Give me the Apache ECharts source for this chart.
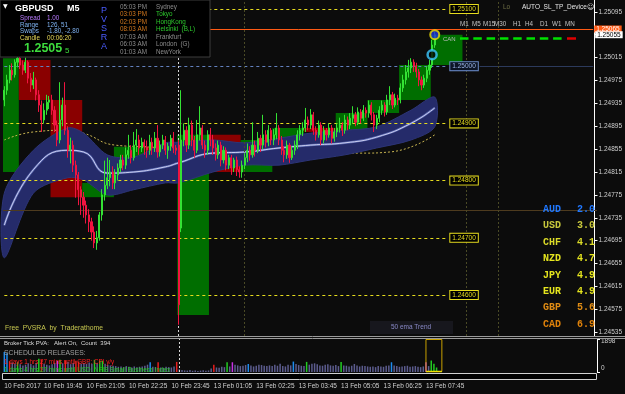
<!DOCTYPE html>
<html>
<head>
<meta charset="utf-8">
<script src="https://cdn.jsdelivr.net/npm/echarts@6/dist/echarts.min.js"></script>
<style>
  html, body { margin: 0; padding: 0; background: #000; }
  #chart { width: 625px; height: 394px; }
</style>
</head>
<body>
<div id="chart"></div>
<script>
// GBPUSD M5 candles, [open, close, low, high], first bar 10 Feb 18:30
const candles = [
  [1.24941,1.24958,1.24930,1.24965],[1.24958,1.24976,1.24950,1.24985],[1.24976,1.24993,1.24970,1.25002],
  [1.24993,1.24985,1.24975,1.25005],[1.24985,1.25007,1.24980,1.25012],[1.25007,1.25014,1.24998,1.25020],
  [1.25014,1.25002,1.24995,1.25020],[1.25002,1.24993,1.24985,1.25010],[1.24993,1.25007,1.24988,1.25015],
  [1.25007,1.24979,1.24970,1.25010],[1.24979,1.24967,1.24955,1.24988],[1.24967,1.24976,1.24960,1.24990],
  [1.24976,1.24950,1.24940,1.24980],[1.24950,1.24932,1.24920,1.24958],[1.24932,1.24906,1.24885,1.24940],
  [1.24906,1.24923,1.24900,1.24935],[1.24923,1.24937,1.24915,1.24950],[1.24937,1.24941,1.24925,1.24948],
  [1.24941,1.24923,1.24915,1.24950],[1.24923,1.24897,1.24885,1.24930],[1.24897,1.24871,1.24860,1.24905],
  [1.24871,1.24906,1.24865,1.24972],[1.24906,1.24932,1.24895,1.24945],[1.24932,1.24888,1.24880,1.24972],
  [1.24888,1.24853,1.24840,1.24895],[1.24853,1.24862,1.24830,1.24875],[1.24862,1.24827,1.24815,1.24870],
  [1.24827,1.24810,1.24770,1.24835],[1.24810,1.24784,1.24757,1.24815],[1.24784,1.24771,1.24740,1.24790],
  [1.24771,1.24757,1.24735,1.24780],[1.24757,1.24740,1.24725,1.24765],[1.24740,1.24728,1.24710,1.24750],
  [1.24728,1.24710,1.24695,1.24735],[1.24710,1.24691,1.24682,1.24720],[1.24691,1.24700,1.24679,1.24712],
  [1.24700,1.24740,1.24695,1.24745],[1.24740,1.24775,1.24730,1.24785],[1.24775,1.24792,1.24765,1.24835],
  [1.24792,1.24805,1.24785,1.24840],[1.24805,1.24815,1.24790,1.24836],[1.24815,1.24796,1.24785,1.24825],
  [1.24796,1.24810,1.24785,1.24820],[1.24810,1.24822,1.24800,1.24830],[1.24822,1.24836,1.24815,1.24845],
  [1.24836,1.24827,1.24818,1.24845],[1.24827,1.24845,1.24820,1.24858],[1.24845,1.24853,1.24838,1.24880],
  [1.24853,1.24840,1.24830,1.24862],[1.24840,1.24862,1.24835,1.24885],[1.24862,1.24871,1.24850,1.24890],
  [1.24871,1.24857,1.24845,1.24880],[1.24857,1.24867,1.24850,1.24875],[1.24867,1.24859,1.24845,1.24872],
  [1.24859,1.24853,1.24840,1.24870],[1.24853,1.24867,1.24845,1.24880],[1.24867,1.24857,1.24845,1.24875],
  [1.24857,1.24874,1.24850,1.24885],[1.24874,1.24850,1.24840,1.24897],[1.24850,1.24862,1.24842,1.24870],
  [1.24862,1.24871,1.24855,1.24880],[1.24871,1.24853,1.24845,1.24878],[1.24853,1.24860,1.24838,1.24866],
  [1.24860,1.24874,1.24852,1.24880],[1.24874,1.24857,1.24848,1.24885],[1.24857,1.24853,1.24845,1.24862],
  [1.24862,1.24583,1.24548,1.24871],[1.24717,1.24871,1.24710,1.24958],[1.24871,1.24888,1.24860,1.24900],
  [1.24888,1.24862,1.24850,1.24895],[1.24862,1.24897,1.24855,1.24910],[1.24897,1.24871,1.24860,1.24905],
  [1.24871,1.24853,1.24840,1.24878],[1.24853,1.24880,1.24848,1.24906],[1.24880,1.24892,1.24870,1.24930],
  [1.24892,1.24862,1.24855,1.24897],[1.24862,1.24853,1.24840,1.24870],[1.24853,1.24880,1.24845,1.24888],
  [1.24880,1.24871,1.24860,1.24892],[1.24871,1.24857,1.24845,1.24880],[1.24857,1.24845,1.24835,1.24865],
  [1.24845,1.24862,1.24838,1.24870],[1.24862,1.24836,1.24825,1.24868],[1.24836,1.24853,1.24830,1.24860],
  [1.24853,1.24827,1.24818,1.24858],[1.24827,1.24840,1.24820,1.24845],[1.24840,1.24822,1.24810,1.24845],
  [1.24822,1.24836,1.24815,1.24840],[1.24836,1.24819,1.24808,1.24842],[1.24819,1.24815,1.24805,1.24825],
  [1.24815,1.24827,1.24805,1.24835],[1.24827,1.24840,1.24820,1.24848],[1.24840,1.24853,1.24832,1.24865],
  [1.24853,1.24845,1.24835,1.24860],[1.24845,1.24862,1.24840,1.24902],[1.24862,1.24853,1.24842,1.24870],
  [1.24853,1.24874,1.24848,1.24885],[1.24874,1.24862,1.24850,1.24880],[1.24862,1.24880,1.24855,1.24915],
  [1.24880,1.24867,1.24858,1.24888],[1.24867,1.24888,1.24860,1.24897],[1.24888,1.24871,1.24862,1.24892],
  [1.24871,1.24880,1.24862,1.24890],[1.24880,1.24892,1.24872,1.24918],[1.24892,1.24871,1.24862,1.24897],
  [1.24871,1.24853,1.24845,1.24878],[1.24853,1.24845,1.24832,1.24860],[1.24845,1.24862,1.24838,1.24870],
  [1.24862,1.24840,1.24831,1.24866],[1.24840,1.24853,1.24836,1.24860],[1.24853,1.24862,1.24845,1.24870],
  [1.24862,1.24880,1.24855,1.24888],[1.24880,1.24888,1.24870,1.24897],[1.24888,1.24892,1.24878,1.24902],
  [1.24892,1.24906,1.24885,1.24927],[1.24906,1.24897,1.24888,1.24912],[1.24897,1.24915,1.24890,1.24925],
  [1.24915,1.24888,1.24880,1.24920],[1.24888,1.24880,1.24870,1.24895],[1.24880,1.24897,1.24875,1.24905],
  [1.24897,1.24871,1.24862,1.24902],[1.24871,1.24888,1.24865,1.24895],[1.24888,1.24880,1.24870,1.24892],
  [1.24880,1.24892,1.24875,1.24900],[1.24892,1.24874,1.24865,1.24897],[1.24874,1.24885,1.24868,1.24892],
  [1.24885,1.24892,1.24876,1.24900],[1.24892,1.24897,1.24884,1.24910],[1.24897,1.24888,1.24878,1.24902],
  [1.24888,1.24906,1.24882,1.24915],[1.24906,1.24897,1.24888,1.24912],[1.24897,1.24909,1.24890,1.24918],
  [1.24909,1.24915,1.24900,1.24930],[1.24915,1.24902,1.24895,1.24920],[1.24902,1.24920,1.24897,1.24928],
  [1.24920,1.24909,1.24900,1.24925],[1.24909,1.24923,1.24904,1.24932],[1.24923,1.24918,1.24910,1.24928],
  [1.24918,1.24932,1.24910,1.24940],[1.24932,1.24915,1.24905,1.24937],[1.24915,1.24897,1.24885,1.24920],
  [1.24897,1.24909,1.24890,1.24915],[1.24909,1.24923,1.24902,1.24930],[1.24923,1.24932,1.24915,1.24940],
  [1.24932,1.24920,1.24912,1.24937],[1.24920,1.24941,1.24915,1.24950],[1.24941,1.24950,1.24932,1.24965],
  [1.24950,1.24932,1.24925,1.24955],[1.24932,1.24944,1.24928,1.24952],[1.24944,1.24941,1.24932,1.24950],
  [1.24941,1.24962,1.24935,1.24970],[1.24962,1.24976,1.24955,1.24985],[1.24976,1.24990,1.24968,1.25002],
  [1.24990,1.24997,1.24980,1.25011],[1.24997,1.25007,1.24988,1.25014],[1.25007,1.25000,1.24990,1.25012],
  [1.25000,1.24990,1.24980,1.25006],[1.24990,1.24976,1.24965,1.24995],[1.24976,1.24967,1.24958,1.24982],
  [1.24967,1.24979,1.24962,1.24985],[1.24979,1.24993,1.24972,1.25000],[1.24993,1.25002,1.24985,1.25011],
  [1.25002,1.25037,1.24997,1.25046],[1.25037,1.25055,1.25032,1.25060]
];

// tick volume per bar and its PVSRA class (n normal, g/r climax, b/m rising)
const volumes = [
  1150,1080,620,540,480,560,450,380,420,500,
  460,380,520,760,700,480,420,380,450,520,
  640,700,500,680,580,450,520,640,600,480,
  520,460,540,480,700,500,660,640,480,420,
  380,360,340,300,320,280,340,300,260,320,
  280,300,320,360,420,560,300,280,560,260,
  240,300,280,260,320,580,160,120,90,80,
  110,70,90,60,80,100,70,90,200,420,
  260,240,300,280,560,320,560,420,380,340,
  360,400,460,380,320,360,420,400,360,340,
  380,340,420,360,480,340,320,420,380,600,
  460,400,360,340,580,420,480,500,440,380,
  360,420,440,380,360,400,340,580,380,360,
  320,360,460,380,320,360,340,320,300,320,
  280,340,320,300,360,380,560,380,340,300,
  320,340,360,300,320,340,300,280,320,560,
  340,660,480,260
];
const volumeKinds = ('bbrnngnnnn' + 'nnngrnnnnn' + 'mgnrnnnrrn' + 'nnnngnggnn' +
  'nnnnnnnnnn' + 'nnnnnbnnrn' + 'nnnnnrnnnn' + 'nnnnnnnnnr' + 'nnnngnmnnn' +
  'nnbnnnnnnn' + 'nnnnnnnnnb' + 'nnnngnnnnn' + 'nnnnnnngnn' + 'nnnnnnnnnn' +
  'nnnnnnbnnn' + 'nnnnnnnnnm' + 'nggg').split('');

// H1 PVSRA boxes: [first bar, last bar, open, close]
const hourBoxes = [
  [0, 5, 1.24815, 1.25014], [6, 17, 1.25011, 1.24941], [18, 29, 1.24941, 1.24771],
  [30, 41, 1.24771, 1.24796], [42, 53, 1.24796, 1.24859], [54, 65, 1.24859, 1.24853],
  [66, 77, 1.24565, 1.24880], [78, 89, 1.24880, 1.24815], [90, 101, 1.24815, 1.24871],
  [102, 113, 1.24871, 1.24892], [114, 125, 1.24892, 1.24885], [126, 137, 1.24885, 1.24918],
  [138, 149, 1.24918, 1.24941], [150, 161, 1.24941, 1.25002], [162, 173, 1.25002, 1.25055]
];

// EMA envelope, read at a few bars
const bandIndex = [0, 11, 24, 30, 39, 49, 61, 66, 79, 91, 104, 116, 129, 141, 154, 163];
const bandUpper = [1.24778,1.24853,1.24892,1.24883,1.24845,1.24841,1.24866,1.24867,1.24871,1.24866,1.24874,1.24883,1.24888,1.24894,1.24923,1.24946];
const bandMid   = [1.24722,1.24819,1.24853,1.24850,1.24813,1.24815,1.24824,1.24831,1.24848,1.24850,1.24857,1.24862,1.24866,1.24876,1.24900,1.24927];
const bandLower = [1.24665,1.24778,1.24805,1.24801,1.24775,1.24784,1.24796,1.24796,1.24815,1.24827,1.24827,1.24836,1.24845,1.24857,1.24871,1.24894];

// slow EMA (yellow dots)
const slowIndex = [0, 11, 24, 30, 42, 54, 66, 90, 115, 135, 146, 163];
const slowEma   = [1.24871,1.24885,1.24888,1.24883,1.24862,1.24859,1.24855,1.24853,1.24850,1.24848,1.24850,1.24880];

const levelPrices = [1.2510, 1.2490, 1.2480, 1.2470, 1.2460];
const roundLevel = 1.2500;
const lowLine = 1.24749;
const askPrice = 1.25065;
const bidPrice = 1.25055;
const markerPrice = 1.25020;

const priceTicks = [1.24535,1.24575,1.24615,1.24655,1.24695,1.24735,1.24775,1.24815,
                    1.24855,1.24895,1.24935,1.24975,1.25015,1.25055,1.25095];
const volumeMax = 1898;
const currentBars = [159, 165];

const tickIndex = [0, 15, 31, 47, 63, 79, 95, 111, 127, 143, 159];
const tickLabels = ['10 Feb 2017','10 Feb 19:45','10 Feb 21:05','10 Feb 22:25','10 Feb 23:45',
  '13 Feb 01:05','13 Feb 02:25','13 Feb 03:45','13 Feb 05:05','13 Feb 06:25','13 Feb 07:45'];

const sessionTimes = ['05:03 PM','03:03 PM','02:03 PM','08:03 AM','07:03 AM','06:03 AM','01:03 AM'];
const sessionCities = ['Sydney','Tokyo','HongKong','Helsinki  (B,L)','Frankfurt','London  (G)','NewYork'];
const infoNames = ['Spread','Range','Swaps','Candle'];
const infoValues = ['1.00','126, 51','-1.80, -2.80','00:06:20'];

const currencies = ['AUD','USD','CHF','NZD','JPY','EUR','GBP','CAD'];
const strengths = ['2.0','3.0','4.1','4.7','4.9','4.9','5.6','6.9'];

const timeframes = ['M1','M5','M15','M30','H1','H4','D1','W1','MN'];

// ---- categories: 5 minute bars, weekend skipped, plus empty space on the right
const totalSlots = 224;
const monthNames = ['Jan','Feb','Mar','Apr','May','Jun','Jul','Aug','Sep','Oct','Nov','Dec'];
const pad = n => (n < 10 ? '0' : '') + n;
const categories = [];
let t = Date.UTC(2017, 1, 10, 18, 30);
for (let i = 0; i < totalSlots; i++) {
  const d = new Date(t);
  categories.push(d.getUTCDate() + ' ' + monthNames[d.getUTCMonth()] + ' ' + pad(d.getUTCHours()) + ':' + pad(d.getUTCMinutes()));
  t += 300000;
  if (t === Date.UTC(2017, 1, 11, 0, 0)) t = Date.UTC(2017, 1, 13, 0, 0);
}

const SANS = '"Liberation Sans", Arial, sans-serif';
const MONO = '"Liberation Mono", "DejaVu Sans Mono", monospace';
const UP = '#34e234', DOWN = '#f01440';
const kindColor = { n: '#5c5c8e', g: '#22cc22', r: '#e81e1e', b: '#1e8cf0', m: '#c832e6' };
const sessionTimeColors = ['#8c8c8c','#d2781e','#d2781e','#d2781e','#8c8c8c','#8c8c8c','#8c8c8c'];
const sessionCityColors = ['#8c8c8c','#2cc82c','#2cc82c','#2cc82c','#8c8c8c','#8c8c8c','#8c8c8c'];
const infoColors = ['#b97aff','#7fb2f0','#7fb2f0','#e6d85a'];
const currencyColors = ['#2078ff','#c8c83c','#dcdc28','#e6e61e','#e6e61e','#e6e61e','#e08c14','#e0820a'];

function txt(x, y, text, fill, size, weight, family, align) {
  return { type: 'text', x: x, y: y, z: 100, silent: true,
    style: { text: text, fill: fill, font: (weight || 'normal') + ' ' + size + 'px ' + (family || SANS),
      align: align || 'left', verticalAlign: 'middle' } };
}

const graphics = [];
// info panel
graphics.push({ type: 'rect', z: 99, silent: true, shape: { x: 0, y: 0, width: 210, height: 57 },
  style: { fill: '#000', stroke: '#3c3c3c', lineWidth: 1 } });
graphics.push(txt(3, 6, '▼', '#ffffff', 6, 'normal', '"DejaVu Sans"'));
graphics.push(txt(15, 8.5, 'GBPUSD', '#ffffff', 9, 'bold'));
graphics.push(txt(67, 8.5, 'M5', '#ffffff', 9, 'bold'));
[18, 25, 31.5, 38].forEach((y, k) => {
  graphics.push(txt(20, y, infoNames[k], infoColors[k], 6.3));
  graphics.push(txt(47, y, infoValues[k], infoColors[k], 6.3));
});
graphics.push(txt(24, 49, '1.2505', '#3ddc3d', 12.5, 'bold'));
graphics.push(txt(65, 50.5, '5', '#3ddc3d', 8));
'PVSRA'.split('').forEach((ch, k) => graphics.push(txt(104, 11 + k * 9, ch, '#4a5cff', 9, 'normal', SANS, 'center')));
sessionTimes.forEach((s, k) => {
  const y = 7.3 + k * 7.45;
  graphics.push(txt(120, y, s, sessionTimeColors[k], 6.3));
  graphics.push(txt(156, y, sessionCities[k], sessionCityColors[k], 6.3));
});

// right top tools
graphics.push(txt(503, 7, 'Lo', '#6e6e46', 6.5));
graphics.push(txt(522, 7, 'AUTO_SL_TP_Device', '#e6e6e6', 6.5));
graphics.push(txt(587, 7, '☺', '#e6e6e6', 7, 'normal', '"DejaVu Sans"'));
const tfX = [460, 472, 483, 494, 513, 525, 540, 552, 565];
timeframes.forEach((s, k) => graphics.push(txt(tfX[k], 24, s, '#c4c4c4', 6.3)));
graphics.push({ type: 'line', z: 100, silent: true, shape: { x1: 460, y1: 38.5, x2: 562, y2: 38.5 },
  style: { stroke: '#00e000', lineWidth: 2.5, lineDash: [8.5, 4.8] } });
graphics.push({ type: 'line', z: 100, silent: true, shape: { x1: 567, y1: 38.5, x2: 576, y2: 38.5 },
  style: { stroke: '#e00000', lineWidth: 2.5 } });
graphics.push(txt(443, 39, 'CAN', '#bdbdbd', 6));

// currency strength table
currencies.forEach((c, k) => {
  const y = 209.5 + k * 16.4;
  graphics.push(txt(543, y, c, currencyColors[k], 10, 'bold', MONO));
  graphics.push(txt(577, y, strengths[k], currencyColors[k], 10, 'bold', MONO));
});

graphics.push(txt(5, 328, 'Free  PVSRA  by  Traderathome', '#c8c850', 6.8));
graphics.push({ type: 'rect', z: 99, silent: true, shape: { x: 370, y: 321, width: 83, height: 13 },
  style: { fill: '#17171d' } });
graphics.push(txt(411, 327.5, '50 ema Trend', '#8a8ac8', 6.5, 'normal', SANS, 'center'));

// panel separators and scroll bar
graphics.push({ type: 'line', z: 100, silent: true, shape: { x1: 0, y1: 336.5, x2: 625, y2: 336.5 },
  style: { stroke: '#9a9a9a', lineWidth: 1 } });
graphics.push({ type: 'line', z: 100, silent: true, shape: { x1: 0, y1: 338.5, x2: 625, y2: 338.5 },
  style: { stroke: '#9a9a9a', lineWidth: 1 } });
graphics.push({ type: 'rect', z: 100, silent: true, shape: { x: 2.5, y: 373.5, width: 594, height: 6 },
  style: { fill: '#000', stroke: '#d0d0d0', lineWidth: 1 } });

// volume window texts
graphics.push(txt(4, 343.5, 'Broker Tick PVA:   Alert On,  Count  394', '#dcdcdc', 6));
graphics.push(txt(4, 353, 'SCHEDULED RELEASES:', '#a0a0a0', 6.8));
graphics.push(txt(4, 362.5, '1 days 1 hrs 27 mins until GBP: CPI y/y', '#ff1e1e', 6.3));
graphics.push(txt(4, 370.5, '1 days 4 hrs 27 mins until USD: NFIB Small Business Index', '#22c822', 6.3));

const levelLines = levelPrices.map(p => [
  { xAxis: 0, yAxis: p, lineStyle: { color: '#e6dc1e', type: [3, 3], width: 1 },
    label: { show: true, position: 'end', distance: 5, formatter: p.toFixed(5), color: '#e6dc1e', fontSize: 6.5,
      fontFamily: SANS, backgroundColor: '#000', borderColor: '#e6dc1e', borderWidth: 1, padding: [1, 2, 0, 2] } },
  { xAxis: 167, yAxis: p }
]);

const option = {
  backgroundColor: '#0c0c0c',
  animation: false,
  grid: [
    { left: 3, right: 28, top: 0, height: 336 },
    { left: 3, right: 28, top: 339, height: 33 }
  ],
  xAxis: [
    { type: 'category', gridIndex: 0, data: categories, boundaryGap: true, show: false },
    { type: 'category', gridIndex: 1, data: categories, boundaryGap: true,
      axisLine: { show: false }, axisTick: { show: false }, splitLine: { show: false },
      axisLabel: { interval: idx => tickIndex.indexOf(idx) >= 0,
        formatter: (v, idx) => tickLabels[tickIndex.indexOf(idx)] || '',
        align: 'left', margin: 11, color: '#cfcfcf', fontSize: 6.5, fontFamily: SANS } }
  ],
  yAxis: [
    { type: 'value', gridIndex: 0, position: 'right', min: 1.245283, max: 1.251157,
      splitLine: { show: false },
      axisLine: { show: true, lineStyle: { color: '#ffffff', width: 1 } },
      axisTick: { show: true, length: 3, customValues: priceTicks, lineStyle: { color: '#ffffff' } },
      axisLabel: { customValues: priceTicks, formatter: v => v.toFixed(5), color: '#cfcfcf',
        fontSize: 6.5, fontFamily: SANS, margin: 4 } },
    { type: 'value', gridIndex: 1, position: 'right', min: 0, max: volumeMax, interval: volumeMax,
      splitLine: { show: false },
      axisLine: { show: true, lineStyle: { color: '#ffffff', width: 1 } },
      axisTick: { show: true, length: 3, lineStyle: { color: '#ffffff' } },
      axisLabel: { color: '#cfcfcf', fontSize: 6.5, fontFamily: SANS, margin: 4,
        formatter: v => (v === 0 ? '{b|0}' : '{t|' + v + '}'),
        rich: { t: { padding: [4, 0, 0, 0], fontSize: 6.5, color: '#cfcfcf' },
                b: { padding: [0, 0, 7, 0], fontSize: 6.5, color: '#cfcfcf' } } } }
  ],
  graphic: graphics,
  series: [
    { // hourly PVSRA boxes
      type: 'custom', xAxisIndex: 0, yAxisIndex: 0, z: 1, silent: true,
      data: hourBoxes,
      encode: { x: [0, 1], y: [2, 3] },
      renderItem: (params, api) => {
        const s = api.value(0), e = api.value(1), o = api.value(2), c = api.value(3);
        const w = api.size([1, 0])[0];
        const a = api.coord([s, Math.max(o, c)]);
        const b = api.coord([e, Math.min(o, c)]);
        return { type: 'rect',
          shape: { x: a[0] - w / 2, y: a[1], width: b[0] - a[0] + w, height: Math.max(1, b[1] - a[1]) },
          style: { fill: c >= o ? '#006e00' : '#8a0000' } };
      }
    },
    { // slow EMA
      type: 'line', xAxisIndex: 0, yAxisIndex: 0, z: 2, silent: true, smooth: true, symbol: 'none',
      data: slowIndex.map((x, k) => [x, slowEma[k]]),
      lineStyle: { color: '#c8b450', width: 1, type: [2, 2] }
    },
    { // EMA band
      type: 'custom', xAxisIndex: 0, yAxisIndex: 0, z: 3, silent: true,
      data: [[0, bandLower[0]]],
      renderItem: (params, api) => {
        const top = bandIndex.map((x, k) => api.coord([x, bandUpper[k]]));
        const bot = bandIndex.map((x, k) => api.coord([x, bandLower[k]])).reverse();
        return { type: 'polygon', shape: { points: top.concat(bot), smooth: 0.3 },
          style: { fill: '#252b6a', stroke: '#2c3476', lineWidth: 1 } };
      }
    },
    { // band centre, outer
      type: 'line', xAxisIndex: 0, yAxisIndex: 0, z: 4, silent: true, smooth: true, symbol: 'none',
      data: bandIndex.map((x, k) => [x, bandMid[k]]),
      lineStyle: { color: '#5a68b0', width: 2.2 }
    },
    { // band centre, white, carries the level lines
      type: 'line', xAxisIndex: 0, yAxisIndex: 0, z: 4, silent: true, smooth: true, symbol: 'none',
      data: bandIndex.map((x, k) => [x, bandMid[k]]),
      lineStyle: { color: '#e4e6ff', width: 0.8 },
      markLine: {
        silent: true, symbol: ['none', 'none'], animation: false, precision: 6,
        data: [
          [{ yAxis: lowLine, x: 3, lineStyle: { color: '#4e3b1e', type: 'solid', width: 1 }, label: { show: false } },
           { yAxis: lowLine, x: 597 }],
          [{ xAxis: 180, yAxis: roundLevel, lineStyle: { color: '#2c3a5c', type: 'solid', width: 1 }, label: { show: false } },
           { xAxis: 223, yAxis: roundLevel }],
          [{ xAxis: 0, yAxis: roundLevel, lineStyle: { color: '#6482c0', type: [3, 3], width: 1 },
             label: { show: true, position: 'end', distance: 5, formatter: '1.25000', color: '#9ab4e6', fontSize: 6.5,
               fontFamily: SANS, backgroundColor: '#0c1424', borderColor: '#6a8ac8', borderWidth: 1, padding: [1, 2, 0, 2] } },
           { xAxis: 167, yAxis: roundLevel }],
          ...levelLines,
          { xAxis: 66, lineStyle: { color: '#d8d8d8', type: [2, 2], width: 1 }, label: { show: false } },
          { xAxis: 91, lineStyle: { color: '#4a4a26', type: [2, 2], width: 1 }, label: { show: false } },
          { xAxis: 175, lineStyle: { color: '#4a4a26', type: [2, 2], width: 1 }, label: { show: false } },
          { xAxis: 187, lineStyle: { color: '#4a4a26', type: [2, 2], width: 1 }, label: { show: false } },
          [{ xAxis: 0, yAxis: askPrice, lineStyle: { color: '#ff5a14', type: 'solid', width: 1 },
             label: { show: true, position: 'end', distance: 1, formatter: askPrice.toFixed(5), color: '#ffffff',
               backgroundColor: '#ff5a14', fontSize: 6.5, fontFamily: SANS, padding: [0, 2, 0, 2] } },
           { xAxis: 223, yAxis: askPrice }]
        ]
      }
    },
    { // M5 candles, carries the bid label
      type: 'candlestick', xAxisIndex: 0, yAxisIndex: 0, z: 5, silent: true,
      data: candles, barWidth: 1.6,
      itemStyle: { color: UP, color0: DOWN, borderColor: UP, borderColor0: DOWN, borderWidth: 1 },
      markLine: {
        silent: true, symbol: ['none', 'none'], animation: false, precision: 6,
        data: [
          [{ xAxis: 222, yAxis: bidPrice, lineStyle: { color: '#0c0c0c', width: 0.1 },
             label: { show: true, position: 'end', distance: 2, formatter: bidPrice.toFixed(5), color: '#000000',
               backgroundColor: '#ffffff', fontSize: 6.5, fontFamily: SANS, padding: [0, 2, 0, 2] } },
           { xAxis: 223, yAxis: bidPrice }]
        ]
      }
    },
    { // trade markers
      type: 'scatter', xAxisIndex: 0, yAxisIndex: 0, z: 7, silent: true, symbolSize: 9,
      data: [
        { value: [163, bidPrice], itemStyle: { color: '#1e32dc', borderColor: '#f0e000', borderWidth: 2 } },
        { value: [162, markerPrice], itemStyle: { color: '#050505', borderColor: '#3cc8ff', borderWidth: 2.5 } }
      ]
    },
    { // tick volume
      type: 'bar', xAxisIndex: 1, yAxisIndex: 1, z: 2, silent: true, barWidth: 1.5,
      data: volumes.map((v, i) => ({ value: v, itemStyle: { color: kindColor[volumeKinds[i]] } })),
      markLine: { silent: true, symbol: ['none', 'none'], label: { show: false },
        data: [{ xAxis: 66, lineStyle: { color: '#d8d8d8', type: [2, 2], width: 1 } }] }
    },
    { // current bars frame in the volume window
      type: 'custom', xAxisIndex: 1, yAxisIndex: 1, z: 3, silent: true,
      data: [currentBars], encode: { x: [0, 1] },
      renderItem: (params, api) => {
        const a = api.coord([api.value(0), volumeMax]);
        const b = api.coord([api.value(1), 0]);
        return { type: 'group', children: [
          { type: 'rect', shape: { x: a[0], y: a[1] + 0.5, width: b[0] - a[0], height: b[1] - a[1] - 1 },
            style: { fill: 'none', stroke: '#c8a000', lineWidth: 1 } },
          { type: 'line', shape: { x1: a[0], y1: b[1] - 0.5, x2: b[0], y2: b[1] - 0.5 },
            style: { stroke: '#f0e000', lineWidth: 1.5 } }
        ] };
      }
    }
  ]
};

const chart = echarts.init(document.getElementById('chart'));
chart.setOption(option);
</script>
</body>
</html>
